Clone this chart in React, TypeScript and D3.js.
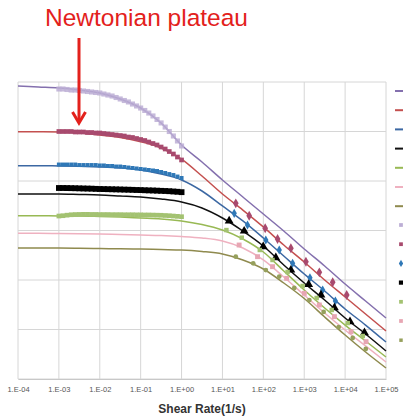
import { useEffect, useRef } from "react";
import * as d3 from "d3";

// fitted model curves (solid lines), read at half-decade shear rates
const fitRates = [
  1e-4, 3.16e-4, 1e-3, 3.16e-3, 1e-2, 3.16e-2, 1e-1, 0.316, 1, 3.16, 10, 31.6, 100, 316, 1000, 3160, 1e4,
  31600, 1e5,
];
const fitPurple = [8300, 7925, 7570, 6890, 6000, 4540, 2985, 1486, 533, 242, 105, 47.5, 21.5, 9.77, 4.23, 1.92, 0.83, 0.377, 0.171];
const fitRed = [991, 986, 977, 933, 850, 757, 622, 464, 278, 126, 54.6, 25.9, 11.8, 5.09, 2.31, 1.0, 0.454, 0.206, 0.0933];
const fitBlue = [204, 204, 201, 198, 192, 183, 167, 138, 105, 62.8, 31.3, 15.6, 7.05, 3.05, 1.32, 0.6, 0.26, 0.123, 0.0558];
const fitBlack = [54.6, 54.6, 54.6, 53.4, 52.1, 49.8, 47.5, 43.3, 37.6, 28.5, 17.9, 9.77, 4.86, 2.01, 0.87, 0.394, 0.171, 0.081, 0.0368];
const fitGreen = [19.9, 19.9, 19.6, 19.6, 19.2, 18.7, 17.9, 17.1, 15.6, 13.2, 10.2, 6.73, 3.68, 1.52, 0.628, 0.272, 0.123, 0.0586, 0.0278];
const fitPink = [8.77, 8.77, 8.69, 8.61, 8.49, 8.3, 8.11, 7.93, 7.57, 7.05, 6.14, 4.43, 2.54, 1.15, 0.498, 0.215, 0.0977, 0.0465, 0.022];
const fitOlive = [4.43, 4.43, 4.43, 4.39, 4.33, 4.27, 4.23, 4.13, 4.04, 3.77, 3.35, 2.54, 1.67, 0.87, 0.423, 0.179, 0.0774, 0.0351, 0.0167];

// rotational rheometer data (low shear rates)
const lowRates = [
  0.001, 0.00126, 0.00158, 0.002, 0.00251, 0.00316, 0.00398, 0.00501, 0.00631, 0.00794, 0.01, 0.0126, 0.0158,
  0.02, 0.0251, 0.0316, 0.0398, 0.0501, 0.0631, 0.0794, 0.1, 0.126, 0.158, 0.2, 0.251, 0.316, 0.398, 0.501,
  0.631, 0.794, 1,
];
const lowLavender = [7220, 7220, 7060, 6890, 6890, 6740, 6580, 6430, 6280, 6140, 6000, 5720, 5460, 5210, 4860, 4540, 4230, 3950, 3590, 3280, 2980, 2660, 2360, 2060, 1750, 1490, 1230, 1000, 811, 643, 510];
const lowRed = [1000, 1000, 1000, 1000, 977, 977, 977, 954, 954, 933, 933, 911, 890, 870, 850, 830, 811, 774, 757, 722, 689, 658, 614, 572, 534, 486, 443, 394, 351, 305, 266];
const lowBlue = [215, 215, 215, 215, 215, 210, 210, 210, 210, 210, 206, 206, 201, 201, 196, 196, 192, 187, 183, 179, 175, 171, 167, 163, 159, 152, 145, 138, 132, 123, 115];
const lowBlack = [72.2, 72.2, 72, 71.7, 71.4, 71, 70.6, 70.3, 70, 69.4, 68.9, 68.6, 68.3, 68, 67.7, 67.4, 67, 66.7, 66.3, 65.8, 65.5, 65, 64.6, 64.3, 63.8, 63.3, 62.8, 62.2, 61.4, 60.6, 59.5];
const lowGreen = [19.6, 19.9, 20.4, 20.8, 21, 21.1, 21.2, 21.2, 21.1, 21.1, 21, 21, 21, 20.9, 20.9, 20.9, 20.8, 20.8, 20.8, 20.7, 20.7, 20.6, 20.6, 20.5, 20.4, 20.3, 20.1, 19.9, 19.6, 19.3, 19];

// capillary data (high shear rates)
const highRedRates = [21.2, 45.1, 111, 223, 472, 1101, 2344, 4966, 10940];
const highRed = [35.4, 19.9, 11.1, 6.73, 4.37, 2.34, 1.43, 0.9, 0.498];
const highBlueRates = [19.4, 41, 115, 245, 520, 1380, 2825, 5780];
const highBlue = [22.2, 12.9, 6.43, 4.04, 2.17, 1.11, 0.628, 0.377];
const highBlackRates = [14.6, 34, 99.5, 202, 472, 1282, 2565, 5470, 13180, 29720];
const highBlack = [15.6, 9.77, 4.71, 2.82, 1.59, 0.818, 0.498, 0.275, 0.144, 0.0861];
const highGreenRates = [12.5, 29.7, 82, 168, 392, 914, 2014, 4700, 11590, 27000];
const highGreen = [10.2, 7.16, 4.04, 2.54, 1.45, 0.757, 0.433, 0.248, 0.135, 0.074];
const highPinkRates = [25.6, 72.1, 168, 371, 1005, 2344, 5470, 13960, 32500];
const highPink = [5.09, 2.96, 1.86, 1.08, 0.538, 0.313, 0.182, 0.0904, 0.0568];
const highOliveRates = [21.2, 56.5, 115, 245, 571, 1334, 2985, 6970, 15350, 32000];
const highOlive = [2.96, 2.17, 1.59, 1.17, 0.689, 0.394, 0.226, 0.112, 0.0673, 0.0404];

const xTicks = [1e-4, 1e-3, 1e-2, 1e-1, 1, 10, 100, 1e3, 1e4, 1e5];
const xTickLabels = ["1.E-04", "1.E-03", "1.E-02", "1.E-01", "1.E+00", "1.E+01", "1.E+02", "1.E+03", "1.E+04", "1.E+05"];
const yTicks = [1e-2, 1e-1, 1, 10, 100, 1e3, 1e4];

const lineColors = ["#8470ae", "#c4504f", "#3c68a3", "#111111", "#98b954", "#efb1c0", "#8f8a4e"];
const markerColors = ["#bcaed5", "#a84a6e", "#2f78b7", "#000000", "#a3c271", "#e7a6b3", "#96a05c"];

export default function App() {
  const svgRef = useRef<SVGSVGElement>(null);

  useEffect(() => {
    if (!svgRef.current) return;
    const svg = d3.select(svgRef.current);
    svg.selectAll("*").remove();

    const left = 18, right = 386, top = 82, bottom = 379;
    const x = d3.scaleLog().domain([1e-4, 1e5]).range([left, right]);
    const y = d3.scaleLog().domain([1e-2, 1e4]).range([bottom, top]);

    // grid
    const grid = svg.append("g").attr("stroke", "#d6d6d6").attr("stroke-width", 1);
    grid
      .selectAll("line.v")
      .data(xTicks)
      .join("line")
      .attr("x1", (d) => x(d))
      .attr("x2", (d) => x(d))
      .attr("y1", top)
      .attr("y2", bottom);
    grid
      .selectAll("line.h")
      .data(yTicks)
      .join("line")
      .attr("x1", left)
      .attr("x2", right)
      .attr("y1", (d) => y(d))
      .attr("y2", (d) => y(d));

    // x axis
    const xAxis = svg
      .append("g")
      .attr("transform", `translate(0,${bottom})`)
      .call(
        d3
          .axisBottom(x)
          .tickValues(xTicks)
          .tickFormat((_d, i) => xTickLabels[i])
          .tickSize(0)
          .tickPadding(8)
      );
    xAxis.select(".domain").attr("stroke", "#c8c8c8");
    xAxis
      .selectAll("text")
      .attr("fill", "#555")
      .style("font-family", "'Liberation Sans', Arial, sans-serif")
      .style("font-size", "7.5px");

    svg
      .append("text")
      .attr("x", 202)
      .attr("y", 413)
      .attr("text-anchor", "middle")
      .attr("fill", "#333")
      .style("font-family", "'Liberation Sans', Arial, sans-serif")
      .style("font-size", "12px")
      .style("font-weight", "bold")
      .text("Shear Rate(1/s)");

    // fitted lines
    const line = d3
      .line<[number, number]>()
      .x((d) => x(d[0]))
      .y((d) => y(d[1]))
      .curve(d3.curveMonotoneX);
    const fits = [fitPurple, fitRed, fitBlue, fitBlack, fitGreen, fitPink, fitOlive];
    fits.forEach((vals, i) => {
      svg
        .append("path")
        .attr("d", line(vals.map((v, j) => [fitRates[j], v])))
        .attr("fill", "none")
        .attr("stroke", lineColors[i])
        .attr("stroke-width", 1.5);
    });

    // measured points
    const sq = d3.symbol().type(d3.symbolSquare);
    const dia = d3.symbol().type(d3.symbolDiamond);
    const tri = d3.symbol().type(d3.symbolTriangle);
    const circ = d3.symbol().type(d3.symbolCircle);

    const drawPoints = (rates: number[], vals: number[], color: string, path: string | null, opacity = 1) => {
      svg
        .append("g")
        .selectAll("path")
        .data(vals.map((v, j) => [rates[j], v]))
        .join("path")
        .attr("d", path)
        .attr("transform", (d) => `translate(${x(d[0])},${y(d[1])})`)
        .attr("fill", color)
        .attr("opacity", opacity);
    };

    drawPoints(lowRates, lowLavender, markerColors[0], sq.size(26)(), 0.85);
    drawPoints(lowRates, lowRed, markerColors[1], sq.size(22)());
    drawPoints(lowRates, lowBlue, markerColors[2], sq.size(16)());
    drawPoints(lowRates, lowBlack, markerColors[3], sq.size(34)());
    drawPoints(lowRates, lowGreen, markerColors[4], sq.size(22)());

    drawPoints(highRedRates, highRed, markerColors[1], dia.size(28)());
    drawPoints(highBlueRates, highBlue, markerColors[2], dia.size(24)());
    drawPoints(highBlackRates, highBlack, markerColors[3], tri.size(34)());
    drawPoints(highGreenRates, highGreen, markerColors[4], sq.size(20)());
    drawPoints(highPinkRates, highPink, markerColors[5], sq.size(24)());
    drawPoints(highOliveRates, highOlive, markerColors[6], circ.size(18)());

    // legend (text cut off by the picture edge)
    const legend = svg.append("g");
    lineColors.forEach((c, i) => {
      legend
        .append("line")
        .attr("x1", 395)
        .attr("x2", 405)
        .attr("y1", 91 + i * 19.2)
        .attr("y2", 91 + i * 19.2)
        .attr("stroke", c)
        .attr("stroke-width", 2);
    });
    const legendSyms = [sq.size(14)(), sq.size(14)(), dia.size(16)(), sq.size(18)(), sq.size(14)(), sq.size(14)(), sq.size(12)()];
    markerColors.forEach((c, i) => {
      legend
        .append("path")
        .attr("d", legendSyms[i])
        .attr("transform", `translate(401,${225 + i * 19.2})`)
        .attr("fill", c);
    });

    // annotation
    svg
      .append("text")
      .attr("x", 45)
      .attr("y", 26)
      .attr("fill", "#e3211c")
      .style("font-family", "'Liberation Sans', Arial, sans-serif")
      .style("font-size", "24.5px")
      .text("Newtonian plateau");
    svg
      .append("line")
      .attr("x1", 79)
      .attr("x2", 79)
      .attr("y1", 38)
      .attr("y2", 121)
      .attr("stroke", "#e3211c")
      .attr("stroke-width", 3);
    svg
      .append("path")
      .attr("d", "M72.5,112 L79,123 L85.5,112")
      .attr("fill", "none")
      .attr("stroke", "#e3211c")
      .attr("stroke-width", 3);
  }, []);

  return (
    <svg
      ref={svgRef}
      width={403}
      height={419}
      style={{ position: "absolute", left: 0, top: 0, display: "block", background: "#fff" }}
    />
  );
}
